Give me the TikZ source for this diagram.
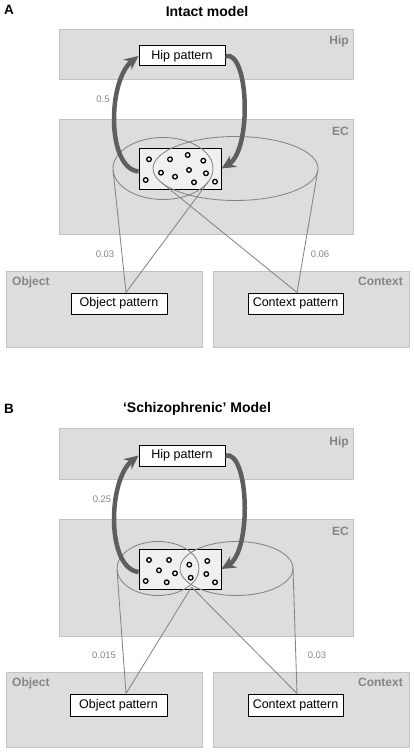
\documentclass[tikz,border=0pt]{standalone}
\usepackage{fontspec}
\setmainfont{Liberation Sans}
\usetikzlibrary{arrows.meta,calc}
\definecolor{panelfill}{HTML}{DDDDDD}
\definecolor{panelline}{HTML}{C2C2C2}
\definecolor{lbl}{HTML}{858585}
\definecolor{arccol}{HTML}{5E5E5E}
\definecolor{thincol}{HTML}{848484}
\definecolor{dotfill}{HTML}{F0F0F0}
\begin{document}
\begin{tikzpicture}[x=1pt,y=-1pt,
 panelbox/.style={draw=panelline, fill=panelfill, line width=0.9pt},
 patbox/.style={draw=black, fill=white, line width=1pt, inner sep=0pt, minimum height=21pt, font=\fontsize{12.5}{14}\selectfont},
 regionlbl/.style={text=lbl, font=\bfseries\fontsize{12}{14}\selectfont, inner sep=0pt},
 wlabel/.style={text=lbl, font=\fontsize{9.5}{10}\selectfont, inner sep=0pt},
 ptitle/.style={font=\bfseries\fontsize{14}{16}\selectfont, inner sep=0pt, anchor=base},
 pletter/.style={font=\bfseries\fontsize{13.5}{15}\selectfont, inner sep=0pt, anchor=base west},
 dotbox/.style={draw=black, fill=dotfill, line width=1pt, inner sep=0pt, minimum width=82pt},
 celldot/.style={draw=black, fill=white, line width=1.3pt},
 lensl/.style={draw=thincol, line width=0.85pt},
 conel/.style={draw=thincol, line width=0.85pt, line join=round},
 fbarrow/.style={draw=arccol, line width=4.5pt, -{Stealth[length=14pt,width=13pt]}},
]
\useasboundingbox (0,0) rectangle (414,752);

%% ================= Panel A =================
\node[pletter] (letA) at (4,15) {A};
\node[ptitle] (titA) at (207,16.5) {Intact model};

\draw[panelbox] (59,29) rectangle (353,79);
\draw[panelbox] (59,119) rectangle (353,234);
\draw[panelbox] (6,271) rectangle (202,347);
\draw[panelbox] (213,271) rectangle (409,347);
\node[regionlbl, anchor=base east] at (349,44.5) {Hip};
\node[regionlbl, anchor=base east] at (349,135) {EC};
\node[regionlbl, anchor=base west] at (12,285.5) {Object};
\node[regionlbl, anchor=base east] at (403,285.5) {Context};

\node[dotbox, minimum height=41pt] (dotsA) at (180,168.5) {};
\draw[lensl] (163,168.5) ellipse [x radius=50pt, y radius=31pt];
\draw[lensl] (235.5,168.5) ellipse [x radius=82.5pt, y radius=32pt];

\node[patbox, minimum width=86pt, minimum height=20pt] (hipA) at (182,56) {Hip pattern};
\node[patbox, minimum width=96pt] (objA) at (119,303.5) {Object pattern};
\node[patbox, minimum width=95pt] (ctxA) at (295.5,303.5) {Context pattern};

\coordinate (oLA) at (113.1,170.5);
\coordinate (oRA) at (208.5,181.4);
\coordinate (cLA) at (161,182.2);
\coordinate (cRA) at (317.8,170.6);
\draw[conel] (oLA) -- ([xshift=7pt]objA.north) -- (oRA);
\draw[conel] (cLA) -- ([xshift=1.5pt]ctxA.north) -- (cRA);

\foreach \px/\py in {149/159.3,170/159.3,187.7/155,203.3/160.7,161/172.7,175/176.7,189/170,206/173.3,145.7/180,194/182.3,215/181.7}
  \draw[celldot] (\px,\py) circle (2.3pt);

\draw[fbarrow] ([yshift=-3pt]dotsA.west) .. controls (106,168) and (108,80) .. (hipA.west);
\draw[fbarrow] (hipA.east) .. controls (249,50) and (252,150) .. (dotsA.east);

\node[wlabel] at (103,99) {0.5};
\node[wlabel] at (105,254) {0.03};
\node[wlabel] at (320,254) {0.06};

%% ================= Panel B =================
\node[pletter] (letB) at (4,413) {B};
\node[ptitle] (titB) at (197,412) {‘Schizophrenic’ Model};

\draw[panelbox] (59,428) rectangle (353,479);
\draw[panelbox] (59,519) rectangle (353,636);
\draw[panelbox] (6,672) rectangle (202,747);
\draw[panelbox] (213,672) rectangle (409,747);
\node[regionlbl, anchor=base east] at (349,445) {Hip};
\node[regionlbl, anchor=base east] at (349,535) {EC};
\node[regionlbl, anchor=base west] at (12,686.5) {Object};
\node[regionlbl, anchor=base east] at (403,686.5) {Context};

\node[dotbox, minimum height=40pt] (dotsB) at (180,569) {};
\draw[lensl] (158,568.5) ellipse [x radius=41pt, y radius=27pt];
\draw[lensl] (236.5,568.5) ellipse [x radius=56.5pt, y radius=27pt];

\node[patbox, minimum width=86pt] (hipB) at (182,455.5) {Hip pattern};
\node[patbox, minimum width=97pt, minimum height=22pt] (objB) at (118.5,705) {Object pattern};
\node[patbox, minimum width=95pt, minimum height=22pt] (ctxB) at (295.5,705) {Context pattern};

\coordinate (oLB) at (117,569.7);
\coordinate (xB) at (191.5,587);
\coordinate (cRB) at (293,568.1);
\draw[conel] (oLB) -- ([xshift=7.5pt]objB.north) -- (xB);
\draw[conel] (xB) -- ([xshift=1.5pt]ctxB.north) -- (cRB);

\foreach \px/\py in {149/560,169/560,189.3/564.7,207.3/561,159/570.3,175/573.3,206.3/574,145.7/581,166.7/582.3,190.7/577.7,215/582.3}
  \draw[celldot] (\px,\py) circle (2.3pt);

\draw[fbarrow] ([yshift=-3pt]dotsB.west) .. controls (106,568) and (108,480) .. (hipB.west);
\draw[fbarrow] (hipB.east) .. controls (249,450) and (252,551) .. (dotsB.east);

\node[wlabel] at (102,499) {0.25};
\node[wlabel] at (104,655) {0.015};
\node[wlabel] at (317,655) {0.03};
\end{tikzpicture}
\end{document}
